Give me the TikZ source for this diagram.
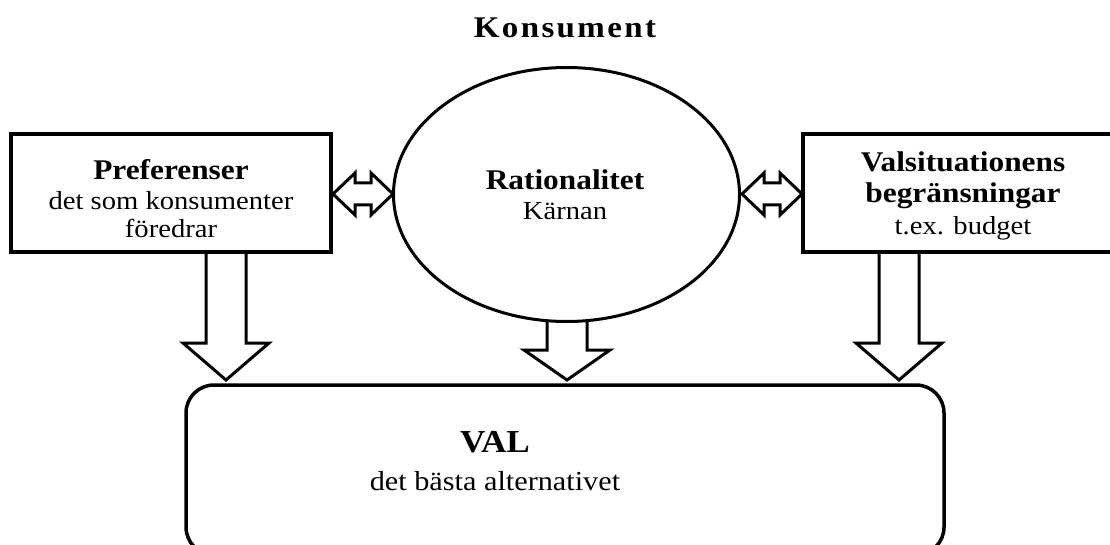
\documentclass[tikz,border=0pt]{standalone}
\usepackage{fontspec}
\setmainfont{Liberation Serif}[FakeStretch=1.1]
\newfontfamily\spacedserif{Liberation Serif}[FakeStretch=1.1, LetterSpace=8]
\usetikzlibrary{shapes.geometric}

% block arrow pointing down: x centre, top y, head base y, tip y
\newcommand\blockdown[4]{%
  \draw[blk] (#1-20,#2) -- (#1-20,#3) -- (#1-43,#3) -- (#1,#4)
    -- (#1+43,#3) -- (#1+20,#3) -- (#1+20,#2);}
% block arrow with heads at both ends: left tip x, right tip x, centre y
\newcommand\blockboth[3]{%
  \draw[blk] (#1,#3) -- (#1+22,#3-21) -- (#1+22,#3-11) -- (#2-22,#3-11)
    -- (#2-22,#3-21) -- (#2,#3) -- (#2-22,#3+21) -- (#2-22,#3+11)
    -- (#1+22,#3+11) -- (#1+22,#3+21) -- cycle;}

\begin{document}
\begin{tikzpicture}[x=1pt, y=-1pt, line join=miter,
  box/.style={draw, line width=3.5pt, minimum width=320pt, minimum height=118pt, inner sep=0pt},
  blk/.style={draw, line width=3pt},
  bold/.style={anchor=base, font=\bfseries\fontsize{28.5}{31}\selectfont},
  plain/.style={anchor=base, font=\fontsize{26}{29}\selectfont}]
\useasboundingbox (0,0) rectangle (1110,545);

% connectors (drawn first so the shapes sit on top)
\blockdown{226}{253}{343}{380}
\blockdown{567}{322}{350}{380}
\blockdown{899}{253}{343}{380}
\blockboth{333}{393}{194}
\blockboth{742}{802}{194}

% shapes
\node[box] (pref) at (171,193) {};
\node[box] (lim) at (963,193) {};
\node[draw, ellipse, line width=3pt, minimum width=346pt, minimum height=254pt, inner sep=0pt]
  (core) at (566.5,194.5) {};
\node[draw, rounded corners=28pt, line width=3.5pt, minimum width=758pt, minimum height=170pt]
  (choice) at (565,470) {};

% texts
\node[bold, font=\spacedserif\bfseries\fontsize{30}{32}\selectfont] (title) at (565,38) {Konsument};

\node[bold] (prefA) at (171,180) {Preferenser};
\node[plain] (prefB) at (171,210) {det som konsumenter};
\node[plain] (prefC) at (171,238) {föredrar};

\node[bold] (coreA) at (565,190) {Rationalitet};
\node[plain] (coreB) at (565,220) {Kärnan};

\node[bold] (limA) at (963,172) {Valsituationens};
\node[bold] (limB) at (963,203) {begränsningar};
\node[plain] (limC) at (963,235) {t.ex. budget};

\node[bold, font=\bfseries\fontsize{32}{34}\selectfont] (choiceA) at (495,452) {VAL};
\node[plain, font=\fontsize{27.5}{30}\selectfont] (choiceB) at (495,490) {det bästa alternativet};
\end{tikzpicture}
\end{document}
